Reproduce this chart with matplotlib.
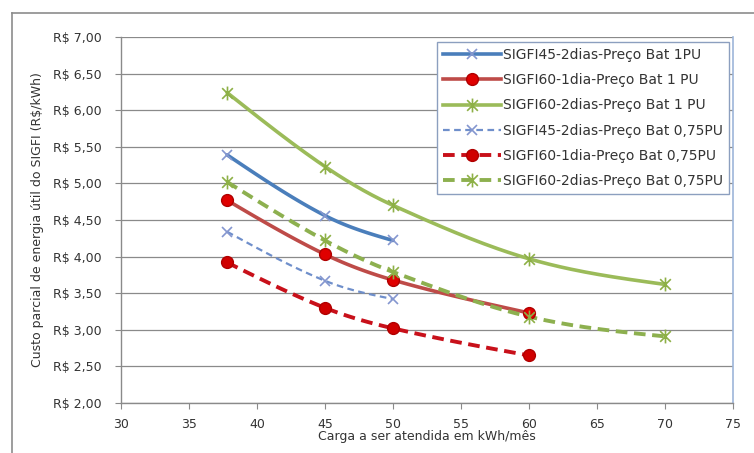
import numpy as np
import matplotlib
matplotlib.use("Agg")
import matplotlib.pyplot as plt
from matplotlib.path import Path
from matplotlib.lines import Line2D

# ---------------- data ----------------
x_45_2d = [37.8, 45, 50]
x_60_1d = [37.8, 45, 50, 60]
x_60_2d = [37.8, 45, 50, 60, 70]

sigfi45_2d_1pu = [5.39, 4.56, 4.22]
sigfi60_1d_1pu = [4.77, 4.03, 3.68, 3.23]
sigfi60_2d_1pu = [6.24, 5.23, 4.70, 3.97, 3.62]
sigfi45_2d_075 = [4.34, 3.67, 3.42]
sigfi60_1d_075 = [3.92, 3.30, 3.02, 2.65]
sigfi60_2d_075 = [5.02, 4.22, 3.79, 3.18, 2.91]

labels = [
    "SIGFI45-2dias-Preço Bat 1PU",
    "SIGFI60-1dia-Preço Bat 1 PU",
    "SIGFI60-2dias-Preço Bat 1 PU",
    "SIGFI45-2dias-Preço Bat 0,75PU",
    "SIGFI60-1dia-Preço Bat 0,75PU",
    "SIGFI60-2dias-Preço Bat 0,75PU",
]
yticks = [2.0, 2.5, 3.0, 3.5, 4.0, 4.5, 5.0, 5.5, 6.0, 6.5, 7.0]
xticks = [30, 35, 40, 45, 50, 55, 60, 65, 70, 75]

# ---------------- helpers ----------------
star = Path([(-1, -1), (1, 1), (-1, 1), (1, -1), (0, -1.3), (0, 1.3)],
            [Path.MOVETO, Path.LINETO, Path.MOVETO, Path.LINETO, Path.MOVETO, Path.LINETO])


def smooth(xs, ys, n=40):
    """Smoothed drawing path through the data points (cubic Hermite)."""
    x = np.asarray(xs, float)
    y = np.asarray(ys, float)
    m = len(x)
    tang = np.zeros(m)
    for i in range(m):
        if i == 0:
            tang[i] = (y[1] - y[0]) / (x[1] - x[0])
        elif i == m - 1:
            tang[i] = (y[-1] - y[-2]) / (x[-1] - x[-2])
        else:
            tang[i] = (y[i + 1] - y[i - 1]) / (x[i + 1] - x[i - 1])
    if m > 2:
        tang[0] = 1.5 * (y[1] - y[0]) / (x[1] - x[0]) - 0.5 * tang[1]
        tang[-1] = 1.5 * (y[-1] - y[-2]) / (x[-1] - x[-2]) - 0.5 * tang[-2]
    ox, oy = [x[0]], [y[0]]
    t = np.linspace(0, 1, n)[1:]
    for i in range(m - 1):
        h = x[i + 1] - x[i]
        h00 = 2 * t ** 3 - 3 * t ** 2 + 1
        h10 = t ** 3 - 2 * t ** 2 + t
        h01 = -2 * t ** 3 + 3 * t ** 2
        h11 = t ** 3 - t ** 2
        ox.extend(x[i] + t * h)
        oy.extend(h00 * y[i] + h10 * h * tang[i] + h01 * y[i + 1] + h11 * h * tang[i + 1])
    return np.array(ox), np.array(oy)


W, H = 754, 453
fig = plt.figure(figsize=(W / 100, H / 100), dpi=100)
fig.patch.set_facecolor("white")

# outer chart border (top and left visible)
fig.add_artist(Line2D([12 / W, 1.0], [1 - 13 / H, 1 - 13 / H], transform=fig.transFigure,
                      color="#8c8c8c", lw=1.2))
fig.add_artist(Line2D([12 / W, 12 / W], [0, 1 - 13 / H], transform=fig.transFigure,
                      color="#8c8c8c", lw=1.2))

ax = fig.add_axes([121 / W, 1 - 403 / H, (733 - 121) / W, (403 - 37) / H])
ax.set_xlim(30, 75)
ax.set_ylim(2.0, 7.0)
ax.set_xticks(xticks)
ax.set_yticks(yticks)
ax.set_xticklabels([str(v) for v in xticks])
ax.set_yticklabels(["R$ " + f"{v:.2f}".replace(".", ",") for v in yticks])
ax.grid(axis="y", color="#8a8a8a", lw=0.9)
ax.set_axisbelow(True)
ax.spines["top"].set_visible(False)
ax.spines["right"].set_color("#9db5d9")
ax.spines["right"].set_linewidth(1.2)
for s in ["left", "bottom"]:
    ax.spines[s].set_color("#8a8a8a")
    ax.spines[s].set_linewidth(1.0)
ax.tick_params(axis="both", direction="out", length=4, color="#8a8a8a",
               labelsize=9, labelcolor="#333333")
ax.tick_params(axis="x", pad=7)
ax.tick_params(axis="y", pad=10)

ax.set_xlabel("Carga a ser atendida em kWh/mês", fontsize=9, color="#333333", labelpad=-1)
ax.set_ylabel("Custo parcial de energia útil do SIGFI (R$/kWh)", fontsize=9, color="#333333",
              labelpad=6)

series = [
    (x_45_2d, sigfi45_2d_1pu, dict(color="#4A7EBB", lw=2.6, ls="-"),
     dict(marker="x", ms=7, mec="#8496CF", mfc="none", mew=1.2)),
    (x_60_1d, sigfi60_1d_1pu, dict(color="#BE4B48", lw=2.6, ls="-"),
     dict(marker="o", ms=8.5, mec="#B00000", mfc="#E00000", mew=1.0)),
    (x_60_2d, sigfi60_2d_1pu, dict(color="#9BBB59", lw=2.6, ls="-"),
     dict(marker=star, ms=10, mec="#8DB046", mfc="none", mew=1.2)),
    (x_45_2d, sigfi45_2d_075, dict(color="#6F8FCB", lw=1.6, ls=(0, (3, 2))),
     dict(marker="x", ms=7, mec="#8496CF", mfc="none", mew=1.2)),
    (x_60_1d, sigfi60_1d_075, dict(color="#C8101A", lw=2.8, ls=(0, (3, 1.7))),
     dict(marker="o", ms=8.5, mec="#B00000", mfc="#D00000", mew=1.0)),
    (x_60_2d, sigfi60_2d_075, dict(color="#8DB04F", lw=2.8, ls=(0, (3, 1.7))),
     dict(marker=star, ms=10, mec="#8DB046", mfc="none", mew=1.2)),
]

handles = []
for (xs, ys, lstyle, mstyle), lab in zip(series, labels):
    sx, sy = smooth(xs, ys)
    ax.plot(sx, sy, color=lstyle["color"], lw=lstyle["lw"], ls=lstyle["ls"],
            solid_capstyle="round", dash_capstyle="butt", zorder=3)
    ax.plot(xs, ys, ls="none", zorder=4, **mstyle)
    handles.append(Line2D([], [], color=lstyle["color"], lw=lstyle["lw"], ls=lstyle["ls"],
                          **mstyle))

leg = fig.legend(handles, labels, loc="upper right",
                 bbox_to_anchor=(729 / W, 1 - 42 / H), fontsize=10,
                 frameon=True, fancybox=False, framealpha=1, edgecolor="#8c9fbf",
                 handlelength=4.2, handletextpad=0.1, labelspacing=0.8,
                 borderpad=0.45, borderaxespad=0)
leg.get_frame().set_linewidth(1.0)
for t in leg.get_texts():
    t.set_color("#333333")

fig.savefig("out.png", dpi=100, facecolor="white")
